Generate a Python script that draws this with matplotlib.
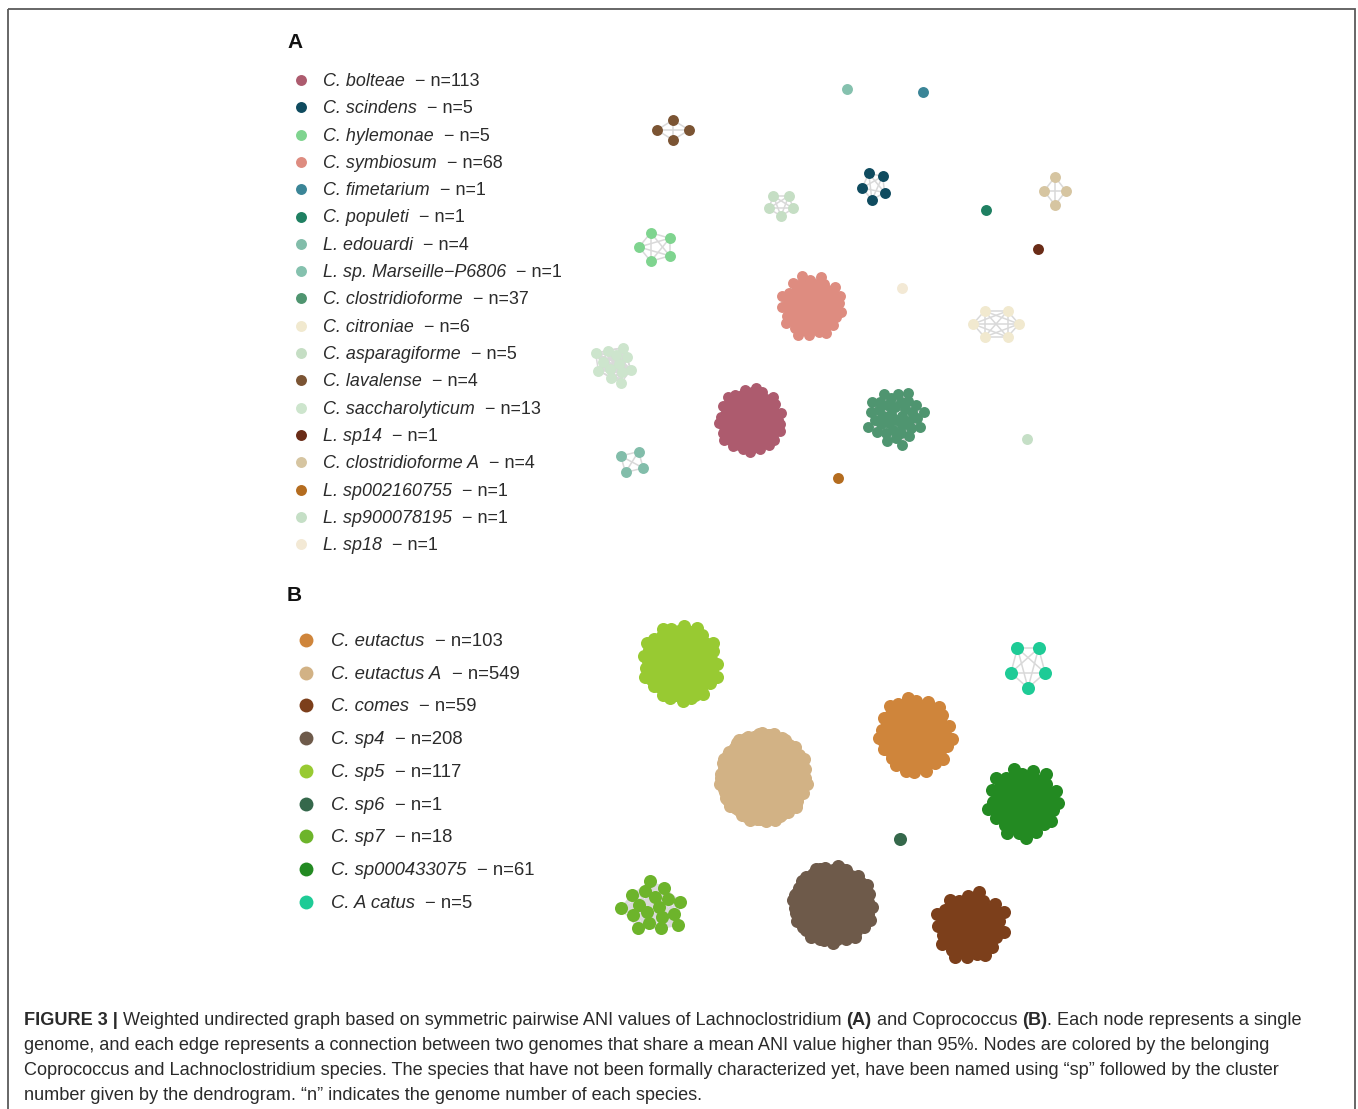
import numpy as np
import matplotlib
matplotlib.use('Agg')
import matplotlib.pyplot as plt
from matplotlib.collections import LineCollection
from matplotlib.patches import Rectangle

plt.rcParams['font.family'] = ['Liberation Sans', 'DejaVu Sans']

# Panel A: Lachnoclostridium species and genome counts
species_a = ['C. bolteae', 'C. scindens', 'C. hylemonae', 'C. symbiosum', 'C. fimetarium',
             'C. populeti', 'L. edouardi', 'L. sp. Marseille\u2212P6806', 'C. clostridioforme',
             'C. citroniae', 'C. asparagiforme', 'C. lavalense', 'C. saccharolyticum',
             'L. sp14', 'C. clostridioforme A', 'L. sp002160755', 'L. sp900078195', 'L. sp18']
counts_a = [113, 5, 5, 68, 1, 1, 4, 1, 37, 6, 5, 4, 13, 1, 4, 1, 1, 1]

# Panel B: Coprococcus species and genome counts
species_b = ['C. eutactus', 'C. eutactus A', 'C. comes', 'C. sp4', 'C. sp5', 'C. sp6',
             'C. sp7', 'C. sp000433075', 'C. A catus']
counts_b = [103, 549, 59, 208, 117, 1, 18, 61, 5]

colors_a = ['#ad5b6e', '#0f4b5f', '#7fd48f', '#de8c80', '#3b8597', '#1f8062', '#82bdaa',
            '#85c1ae', '#4f9570', '#f1e9cf', '#c5dec4', '#7b5433', '#cde5cd', '#6a2c17',
            '#d6c5a1', '#b46c1f', '#c5dfc6', '#f3e9d5']
colors_b = ['#cf853b', '#d2b285', '#7c3f1b', '#6e5a4a', '#98ca32', '#35684b', '#6db42b',
            '#238a22', '#1ecb96']

# where each species' component sits (figure pixels): cx, cy, spread x, spread y, rotation
layout_a = [(750, 421, 31, 31, 0), (874, 186, 12, 14, 100), (656, 247, 17, 15, 180),
            (812, 307, 31, 30, 40), (923, 92, 0, 0, 0), (986, 210, 0, 0, 0),
            (632, 462, 13, 12, 120), (847, 89, 0, 0, 0), (895, 417, 28, 28, 80),
            (996, 324, 23, 15, 180), (781, 205, 13, 11, 90), (673, 130, 16, 10, 0),
            (615, 364, 21, 20, 0), (1038, 249, 0, 0, 0), (1055, 191, 11, 14, 0),
            (838, 478, 0, 0, 0), (1027, 439, 0, 0, 0), (902, 288, 0, 0, 0)]
layout_b = [(914, 735, 35, 37, 20), (763, 777, 41, 42, 0), (970, 926, 34, 34, 60),
            (832, 904, 38, 37, 0), (680, 663, 37, 37, 100), (900, 839, 0, 0, 0),
            (654, 907, 31, 28, 0), (1023, 803, 35, 35, 30), (1028, 666, 18, 22, 90)]

GOLDEN = np.pi * (3 - np.sqrt(5))


def node_positions(n, cx, cy, rx, ry, rot):
    if n == 1:
        return np.array([[cx, cy]], dtype=float)
    i = np.arange(n)
    if n <= 6:
        t = np.radians(rot) + 2 * np.pi * i / n
        r = np.ones(n)
    else:
        t = i * GOLDEN + np.radians(rot)
        r = np.sqrt((i + 0.5) / n)
        # ragged rim, like a force layout leaves it
        rim = i > 0.8 * n
        r[rim] *= 1 + 0.09 * ((i[rim] * 7) % 5) / 4
    return np.column_stack([cx + rx * r * np.cos(t), cy + ry * r * np.sin(t)])


def edge_segments(pts):
    n = len(pts)
    if n <= 20:
        pairs = [(i, j) for i in range(n) for j in range(i + 1, n)]
    else:
        pairs = [(i, (i + k) % n) for i in range(n) for k in (8, 13, 21, n // 2)]
    return [(pts[i], pts[j]) for i, j in pairs if i != j]


fig = plt.figure(figsize=(13.58, 11.09), dpi=100)
ax = fig.add_axes([0, 0, 1, 1])
ax.set_xlim(0, 1358)
ax.set_ylim(1109, 0)
ax.axis('off')
renderer = fig.canvas.get_renderer()

ax.add_patch(Rectangle((8, 9), 1347, 1200, fill=False, ec='#5a5a5a', lw=1.3))


def draw_runs(x, y, runs, size, color):
    sp = 0.278 * size * 100 / 72
    for txt, kw in runs:
        x += (len(txt) - len(txt.lstrip(' '))) * sp
        t = ax.text(x, y, txt.strip(' '), fontsize=size, color=color,
                    va='baseline', ha='left', **kw)
        x += t.get_window_extent(renderer).width
        x += (len(txt) - len(txt.rstrip(' '))) * sp


def draw_network(counts, colors, layout, size):
    for n, c, (cx, cy, rx, ry, rot) in zip(counts, colors, layout):
        pts = node_positions(n, cx, cy, rx, ry, rot)
        if n > 1:
            ax.add_collection(LineCollection(edge_segments(pts), colors='#d9d9d9',
                                             linewidths=1.1, zorder=1))
        ax.scatter(pts[:, 0], pts[:, 1], s=size, c=c, linewidths=0, zorder=2)


def draw_legend(species, counts, colors, x0, y0, dy, dot, size, indent):
    for k, (name, n, c) in enumerate(zip(species, counts, colors)):
        y = y0 + k * dy
        ax.scatter([x0], [y], s=dot, c=c, linewidths=0, zorder=3)
        draw_runs(x0 + indent, y + 6,
                  [(name, dict(style='italic')), ('  \u2212 n=%d' % n, {})], size, '#2b2b2b')


# panel A
ax.text(287, 48, 'A', fontsize=15, weight='bold', color='#111111', va='baseline')
draw_network(counts_a, colors_a, layout_a, 62)
draw_legend(species_a, counts_a, colors_a, 301, 80, 27.3, 62, 12.9, 22)

# panel B
ax.text(287, 601, 'B', fontsize=15, weight='bold', color='#111111', va='baseline')
draw_network(counts_b, colors_b, layout_b, 88)
draw_legend(species_b, counts_b, colors_b, 306, 640, 32.7, 100, 13.3, 25)

# caption
cap = [
    [('FIGURE 3 |', dict(weight='bold')),
     (' Weighted undirected graph based on symmetric pairwise ANI values of Lachnoclostridium ', {}),
     ('(A)', dict(weight='bold')), (' and Coprococcus ', {}), ('(B)', dict(weight='bold')),
     ('. Each node represents a single', {})],
    [('genome, and each edge represents a connection between two genomes that share a mean '
      'ANI value higher than 95%. Nodes are colored by the belonging', {})],
    [('Coprococcus and Lachnoclostridium species. The species that have not been formally '
      'characterized yet, have been named using \u201csp\u201d followed by the cluster', {})],
    [('number given by the dendrogram. \u201cn\u201d indicates the genome number of each species.', {})],
]
for k, line in enumerate(cap):
    draw_runs(24, 1025 + k * 25, line, 13.1, '#2a2a2a')

fig.savefig('out.png', dpi=100)
